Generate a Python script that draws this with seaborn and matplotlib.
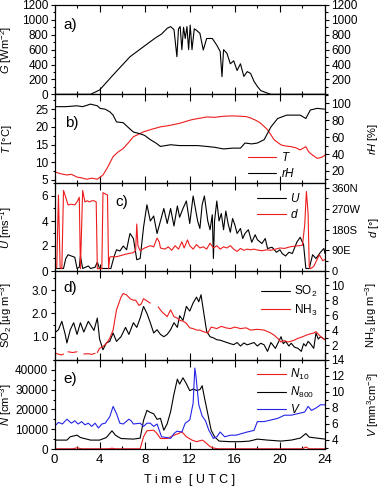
import numpy as np
import pandas as pd
import seaborn as sns
import matplotlib.pyplot as plt
from matplotlib.ticker import MultipleLocator, FixedLocator

sns.set_style('ticks', {'axes.edgecolor': 'black', 'xtick.color': 'black', 'ytick.color': 'black',
                        'text.color': 'black', 'axes.labelcolor': 'black'})
plt.rcParams['font.family'] = ['Liberation Sans', 'DejaVu Sans']
plt.rcParams['mathtext.fontset'] = 'custom'
plt.rcParams['mathtext.rm'] = 'Liberation Sans'
plt.rcParams['mathtext.it'] = 'Liberation Sans:italic'

# a) global radiation
tG = [0, 3.2, 4.0, 5.2, 6.7, 7.9, 8.9, 9.5, 10.0, 10.3, 10.6, 10.86, 11.0, 11.15, 11.3,
      11.45, 11.6, 11.75, 11.9, 12.04, 12.2, 12.4, 12.6, 12.9, 13.2, 13.5, 14.0, 14.4, 14.7, 14.86,
      15.0, 15.3, 15.6, 15.9, 16.2, 16.5, 16.8, 17.1, 17.4, 17.7, 18.0, 18.3, 18.9, 19.2, 24]
G = [0, 0, 58, 260, 505, 640, 752, 810, 887, 910, 870, 505, 880, 910, 600,
     900, 750, 910, 600, 930, 600, 880, 860, 820, 595, 750, 750, 660, 575, 237,
     600, 550, 410, 450, 320, 410, 240, 305, 280, 175, 105, 50, 15, 0, 0]

# b) temperature and relative humidity
tT = [0, 0.5, 1.1, 1.5, 2.0, 2.4, 2.85, 3.3, 3.8, 4.3, 4.7, 5.2, 5.6, 6.1, 6.5, 7.0, 7.9, 8.6,
      9.4, 10.2, 11.1, 12.04, 12.3, 13.0, 13.5, 14.2, 15.0, 15.8, 16.5, 17.0, 17.4, 17.9, 18.3,
      18.9, 19.5, 20.1, 20.5, 21.0, 21.4, 21.8, 22.3, 22.5, 22.7, 23.0, 23.3, 23.7, 24]
T = [7.3, 6.8, 6.4, 6.6, 5.8, 5.6, 5.2, 5.5, 5.2, 6.4, 8.5, 11.6, 12.8, 13.9, 15.3, 17.2, 18.6, 19.3,
     20.0, 20.4, 21.0, 21.9, 22.1, 22.5, 22.8, 22.7, 23.0, 23.1, 23.0, 22.9, 22.5, 21.8, 21.0,
     19.2, 16.3, 14.9, 14.6, 14.4, 14.1, 13.5, 14.4, 13.2, 12.5, 11.8, 11.1, 11.4, 12.0]
trH = [0, 1.0, 2.0, 2.5, 3.2, 3.8, 4.04, 4.5, 4.9, 5.2, 5.5, 6.1, 6.5, 7.0, 7.6, 8.0, 8.5, 9.0, 9.4,
       10.3, 11.1, 12.0, 12.7, 13.5, 14.2, 15.0, 15.8, 16.5, 16.9, 17.5, 18.0, 18.6, 19.2, 19.8,
       20.6, 21.2, 21.8, 22.3, 22.7, 23.3, 24]
rH = [96, 96, 97, 96, 99, 97, 94, 93, 90, 86, 78, 77, 72, 66, 64, 62, 57, 53, 49,
      51, 50, 50, 50, 49, 48, 46, 47, 47, 53, 52, 53, 57, 72, 82,
      86, 86, 86, 82, 92, 94, 93]

# c) wind speed and direction
tU = [0, 0.8, 1.0, 1.2, 1.8, 2.0, 2.2, 2.3, 2.5, 3.0,
      3.2, 3.6, 3.8, 4.0, 4.5, 5.0, 5.3, 5.5, 5.8, 6.1,
      6.4, 6.6, 6.7, 7.0, 7.3, 7.6, 7.9, 8.2, 8.5, 8.8,
      9.1, 9.4, 9.7, 10.0, 10.3, 10.6, 10.9, 11.1, 11.4, 11.7,
      12.0, 12.3, 12.5, 12.7, 12.9, 13.1, 13.3, 13.6, 13.8, 14.0,
      14.1, 14.2, 14.4, 14.6, 14.8, 15.0, 15.2, 15.4, 15.6, 15.8,
      16.0, 16.2, 16.5, 16.7, 16.9, 17.2, 17.5, 17.8, 18.0, 18.4,
      18.7, 18.9, 19.3, 19.7, 20.0, 20.2, 20.5, 20.8, 21.1, 21.5,
      21.8, 22.1, 22.3, 22.6, 22.9, 23.2, 23.6, 23.9, 24]
U = [0.2, 0.2, 1.0, 1.3, 1.1, 0.2, 0.3, 1.2, 0.2, 0.4,
     0.2, 0.3, 0.7, 0.2, 0.2, 0.2, 1.2, 1.7, 1.6, 2.0,
     1.7, 2.6, 3.0, 2.6, 0.9, 1.0, 3.5, 5.3, 4.0, 4.4,
     3.0, 4.0, 5.0, 3.8, 5.0, 3.6, 5.2, 4.3, 5.0, 5.6,
     3.8, 6.0, 5.0, 4.0, 3.4, 5.3, 6.0, 4.0, 3.3, 4.5,
     1.0, 4.0, 5.6, 4.0, 4.6, 3.3, 4.8, 3.8, 3.1, 4.2,
     3.7, 3.0, 3.4, 2.6, 3.0, 3.3, 2.3, 2.9, 2.5, 2.2,
     2.6, 1.8, 1.9, 1.5, 1.7, 1.4, 1.2, 1.5, 1.4, 2.3,
     2.7, 2.1, 0.2, 0.2, 1.3, 1.0, 1.5, 1.8, 1.4]
td = [0, 0.2, 0.35, 0.5, 0.65, 0.8, 1.0, 1.2, 1.5, 1.8,
      2.0, 2.2, 2.3, 2.5, 2.7, 2.9, 3.1, 3.3, 3.5, 3.7,
      3.8, 4.0, 4.2, 4.3, 4.5, 4.7, 4.8, 4.9, 5.0, 5.5,
      6.1, 6.5, 7.0, 7.2, 7.3, 7.4, 7.6, 8.0, 8.5, 8.8,
      9.1, 9.3, 9.4, 9.8, 10.1, 10.4, 10.7, 11.0, 11.3, 11.5,
      11.8, 12.0, 12.3, 12.6, 12.9, 13.2, 13.5, 13.8, 14.1, 14.4,
      14.7, 15.0, 15.3, 15.6, 15.9, 16.2, 16.5, 16.8, 17.1, 17.4,
      17.7, 18.0, 18.4, 18.8, 19.2, 19.6, 20.0, 20.4, 20.9, 21.3,
      21.7, 22.0, 22.2, 22.35, 22.5, 22.6, 22.7, 23.0, 23.3, 23.5,
      23.8, 24]
d = [10, 15, 330, 15, 10, 350, 320, 287, 290, 287,
     300, 320, 10, 350, 300, 305, 300, 305, 305, 300,
     10, 10, 10, 340, 335, 330, 10, 60, 62, 62,
     70, 75, 80, 90, 204, 110, 88, 100, 110, 105,
     143, 125, 100, 95, 105, 90, 110, 95, 127, 100,
     135, 110, 95, 115, 100, 105, 95, 121, 100, 110,
     95, 105, 100, 110, 95, 85, 98, 90, 95, 92,
     95, 91, 88, 92, 90, 95, 100, 98, 105, 108,
     110, 112, 200, 345, 250, 20, 10, 20, 50, 70,
     45, 50]

# d) SO2 and NH3 (nan = gap in record)
tS = [0, 0.35, 0.65, 0.95, 1.1, 1.4, 1.7, 2.0, 2.3, 2.6,
      3.0, 3.5, 3.8, 4.0, 4.3, 4.6, 4.9, 5.2, 5.5, 5.9,
      6.3, 6.6, 7.0, 7.3, 7.6, 7.9, 8.2, 8.5, 8.8, 9.1,
      9.4, 9.7, 10.0, 10.3, 10.6, 10.9, 11.1, 11.4, 11.7, 12.0,
      12.3, 12.6, 12.8, 13.0, 13.2, 13.5, 13.8, 14.1, 14.4, 14.7,
      15.0, 15.3, 15.6, 15.9, 16.2, 16.5, 16.8, 17.1, 17.4, 17.7,
      18.0, 18.3, 18.6, 18.9, 19.2, 19.6, 20.1, 20.3, 20.5, 20.8,
      21.0, 21.3, 21.6, 21.9, 22.1, 22.3, 22.5, 22.7, 23.0, 23.2,
      23.4, 23.6, 24]
SO2 = [1.16, 1.3, 1.66, 1.1, 0.73, 1.3, 1.6, 1.1, 1.6, 1.2,
       1.66, 1.27, 1.8, 0.9, 0.44, 0.73, 0.8, 1.16, 0.8, 1.0,
       1.4, 1.1, 1.6, 1.4, 1.8, 2.3, 2.0, 1.6, 1.16, 1.3,
       1.1, 1.0, 1.1, 1.3, 1.6, 1.4, 1.9, 1.7, 2.3, 2.1,
       2.45, 2.7, 2.5, 2.8, 2.16, 1.23, 1.0, 0.95, 0.87, 0.85,
       0.8, 0.75, 0.7, 0.66, 0.75, 0.6, 0.73, 0.65, 0.7, 0.75,
       0.6, 0.72, 0.65, 0.37, 0.75, 0.5, 1.0, 0.7, 0.8, 0.6,
       0.72, 0.55, 0.5, 0.37, 0.7, 0.6, 0.8, 0.7, 0.5, 1.16,
       0.9, 1.0, 0.87]
tN3 = [0, 0.3, 0.6, 0.8, 1.0, 1.2, 1.6, 2.0, 2.3, 2.6,
       3.0, 3.3, 3.6, 3.7, 3.8, 4.0, 4.3, 4.6, 4.9, 5.2,
       5.5, 5.9, 6.1, 6.4, 6.7, 7.0, 7.2, 7.5, 7.7, 7.9,
       8.2, 8.5, 8.8, 9.2, 9.5, 9.7, 10.0, 10.3, 10.6, 10.9,
       11.1, 11.4, 11.7, 12.0, 12.3, 12.6, 12.9, 13.2, 13.6, 13.9,
       14.4, 14.8, 15.2, 15.6, 16.0, 16.5, 17.0, 17.4, 18.0, 18.6,
       19.2, 19.5, 19.8, 20.1, 20.4, 20.7, 21.2, 21.6, 22.0, 22.3,
       22.7, 23.0, 23.2, 23.5, 23.8, 24]
NH3 = [0.97, 0.8, 0.67, 0.8, np.nan, 1.1, 1.0, 1.1, np.nan, 0.8,
       0.85, 0.75, 0.9, np.nan, 1.0, 1.56, 1.8, 2.2, 2.9, 4.0,
       6.7, 8.4, 8.9, 8.7, 8.2, 8.0, 8.0, 7.3, 7.5, 8.2,
       7.9, 7.6, np.nan, 7.1, 6.5, 6.2, 5.8, 6.7, 5.8, 5.6,
       5.3, 5.2, 4.9, 4.3, 4.2, 4.0, 4.0, 3.8, 3.6, 4.4,
       4.2, 4.5, 4.3, 4.2, 4.4, 4.2, 4.3, 4.0, 4.1, 4.0,
       3.6, 3.3, 2.9, 2.4, 2.6, 2.4, 2.6, 2.9, 3.1, 3.3,
       3.5, 3.6, 3.8, 3.3, 2.9, 2.7]

# e) particle number and volume
tN1 = [0, 1.6, 2.0, 2.4, 4.8, 5.1, 5.4, 7.6, 7.9, 8.2, 8.8, 9.1, 9.4, 10.0, 10.6,
       11.0, 11.3, 11.7, 12.2, 12.6, 13.1, 13.3, 13.8, 14.1, 14.5, 22.0, 22.3, 22.6, 24]
N10 = [100, 100, 600, 100, 100, 400, 100, 100, 6200, 9200, 9500, 7800, 5300, 5300, 7000,
       7800, 8700, 6200, 4500, 3700, 4500, 3800, 1200, 500, 100, 100, 1000, 100, 100]
tN8 = [0, 1.1, 1.4, 2.0, 2.3, 3.2, 4.0, 4.6, 5.1, 5.4, 5.9, 7.0, 7.6, 7.9, 8.2, 8.5, 8.8,
       9.1, 9.4, 9.7, 10.0, 10.3, 10.6, 10.9, 11.1, 11.4, 11.7, 12.0, 12.3, 12.6, 12.9, 13.1,
       13.3, 13.6, 13.9, 14.2, 14.6, 15.6, 16.5, 17.3, 18.0, 18.9, 20.1, 21.0, 21.8, 22.3,
       22.6, 23.3, 24]
N800 = [4500, 4500, 6200, 7000, 5800, 4500, 4500, 5800, 9200, 7000, 5300, 5000, 5500, 14500,
        19500, 18500, 17800, 15000, 15500, 9500, 12800, 18800, 27800, 35300, 32800, 36000,
        33000, 29500, 30300, 29600, 30000, 32000, 26100, 17800, 9500, 6200, 4000, 3700, 3700,
        4000, 5000, 4500, 4000, 4500, 5500, 7800, 6000, 5500, 5000]
tV = [0, 0.35, 0.7, 1.1, 1.5, 1.8, 2.1, 2.4, 2.7, 3.0, 3.3, 3.6, 3.9, 4.2, 4.5, 4.9, 5.2,
      5.5, 5.8, 6.1, 6.6, 6.8, 7.0, 7.6, 7.9, 8.2, 8.5, 8.8, 9.1, 9.5, 10.0, 10.3, 10.6,
      10.86, 11.3, 11.6, 12.0, 12.3, 12.45, 12.55, 12.8, 13.1, 13.4, 13.7, 14.1, 14.4, 14.7,
      15.1, 15.6, 16.1, 16.6, 17.1, 17.7, 18.0, 18.6, 19.2, 19.8, 20.4, 21.0, 21.6, 22.2,
      22.5, 22.8, 23.2, 23.6, 24]
V = [5.7, 6.2, 6.0, 6.6, 6.1, 6.4, 6.0, 6.3, 5.9, 6.1, 5.7, 6.1, 5.5, 6.0, 6.1, 6.9, 8.2,
     7.3, 6.1, 6.0, 6.6, 6.4, 6.0, 6.1, 5.7, 6.1, 6.1, 5.7, 6.0, 4.4, 4.3, 4.2, 4.8,
     5.1, 5.0, 6.1, 6.5, 8.6, 13.0, 12.0, 8.4, 7.0, 6.4, 5.2, 4.2, 4.4, 5.0,
     4.4, 4.6, 4.6, 4.8, 5.0, 5.2, 6.3, 6.3, 6.5, 6.7, 7.1, 7.1, 7.3, 7.5,
     8.2, 7.7, 8.0, 8.4, 8.4]

RED = '#ee1c1c'
BLUE = '#2424e8'
LW = 0.8
FS = 8

W, H = 385, 486
edges = [5, 94.3, 183.5, 271, 360, 449]
fig = plt.figure(figsize=(W / 100, H / 100), dpi=100)
axes = []
for i in range(5):
    ax = fig.add_axes([54.5 / W, 1 - edges[i + 1] / H, 270.5 / W, (edges[i + 1] - edges[i]) / H])
    axes.append(ax)
twins = [ax.twinx() for ax in axes]


def line(ax, x, y, color, label=None, units=None, data=None):
    if data is None:
        data = pd.DataFrame({'t': x, 'v': y})
    sns.lineplot(data=data, x='t', y='v', ax=ax, color=color, lw=LW, label=label,
                 legend=False, units=units, estimator=None)


def style(ax, tw, ylim, ylim2, major, minor, major2, minor2, last=False):
    ax.set_xlim(0, 24)
    ax.xaxis.set_major_locator(MultipleLocator(4))
    ax.xaxis.set_minor_locator(MultipleLocator(2))
    ax.tick_params(axis='x', which='both', direction='in', top=True, bottom=True,
                   labelbottom=last, labelsize=FS + 1.5)
    ax.tick_params(axis='x', which='major', length=5, width=0.8)
    ax.tick_params(axis='x', which='minor', length=2.5, width=0.8)
    ax.set_ylim(*ylim)
    ax.yaxis.set_major_locator(FixedLocator(major))
    ax.yaxis.set_minor_locator(MultipleLocator(minor))
    ax.tick_params(axis='y', which='both', direction='out', left=True, right=False,
                   labelsize=FS + 0.5, pad=1.5)
    ax.tick_params(axis='y', which='major', length=3, width=0.8)
    ax.tick_params(axis='y', which='minor', length=1.8, width=0.8)
    tw.set_ylim(*ylim2)
    tw.yaxis.set_major_locator(FixedLocator(major2))
    tw.yaxis.set_minor_locator(MultipleLocator(minor2))
    tw.tick_params(axis='y', which='both', direction='out', right=True, labelsize=FS + 0.5,
                   pad=1.5)
    tw.tick_params(axis='y', which='major', length=3, width=0.8)
    tw.tick_params(axis='y', which='minor', length=1.8, width=0.8)
    ax.set_xlabel('')
    ax.set_ylabel('')
    tw.set_ylabel('')
    for a in (ax, tw):
        for s in a.spines.values():
            s.set_linewidth(0.8)


def leg(ax, tw, x, y):
    h1, l1 = ax.get_legend_handles_labels()
    h2, l2 = tw.get_legend_handles_labels()
    entries = dict(zip(l1 + l2, h1 + h2))
    tw.legend(list(entries.values()), list(entries.keys()), loc='upper left',
              bbox_to_anchor=(x, y), frameon=False,
              borderpad=0, borderaxespad=0, handlelength=2.4, handletextpad=0.4,
              labelspacing=0.25, fontsize=FS + 0.5)


# a)
ax, tw = axes[0], twins[0]
line(ax, tG, G, 'black')
style(ax, tw, (0, 1200), (0, 1200), range(0, 1201, 200), 100, range(200, 1201, 200), 100)

# b)
ax, tw = axes[1], twins[1]
line(ax, tT, T, RED, '$T$')
line(tw, trH, rH, 'black', '$rH$')
style(ax, tw, (4.0, 29.2), (5.2, 110.6), [5, 10, 15, 20, 25], 2.5, [20, 40, 60, 80, 100], 10)
leg(ax, tw, 0.715, 0.36)

# c)
ax, tw = axes[2], twins[2]
line(ax, tU, U, 'black', '$U$')
line(tw, td, d, RED, '$d$')
style(ax, tw, (0, 7), (0, 380), [0, 2, 4, 6], 1, [0, 90, 180, 270, 360], 45)
tw.set_yticklabels(['0', '90E', '180S', '270W', '360N'])
tw.tick_params(axis='y', labelsize=FS)
leg(ax, tw, 0.75, 0.9)

# d)
ax, tw = axes[3], twins[3]
line(ax, tS, SO2, 'black', 'SO$_2$')
nh3 = pd.DataFrame({'t': tN3, 'v': NH3})
nh3['seg'] = nh3['v'].isna().cumsum()
nh3 = nh3.dropna()
line(tw, None, None, RED, 'NH$_3$', units='seg', data=nh3)
style(ax, tw, (0, 3.82), (0, 11.9), [1.0, 2.0, 3.0], 0.5, [2, 4, 6, 8, 10], 1)
ax.yaxis.set_major_formatter('{x:.1f}')
leg(ax, tw, 0.765, 0.85)

# e)
ax, tw = axes[4], twins[4]
line(ax, tN1, N10, RED, '$N_{10}$')
line(ax, tN8, N800, 'black', '$N_{800}$')
line(tw, tV, V, BLUE, '$V$')
style(ax, tw, (0, 45000), (2.875, 14), range(0, 40001, 10000), 5000, [4, 6, 8, 10, 12, 14], 1,
      last=True)
leg(ax, tw, 0.75, 0.92)

# panel letters
for ax, lab, x, y in zip(axes, ['a)', 'b)', 'c)', 'd)', 'e)'],
                         [0.031, 0.039, 0.224, 0.031, 0.031], [0.78, 0.68, 0.79, 0.81, 0.79]):
    ax.text(x, y, lab, transform=ax.transAxes, fontsize=FS + 3, ha='left', va='center')

# axis labels
left_labels = [r'$G$ [Wm$^{-2}$]', r'$T$ [°C]', r'$U$ [ms$^{-1}$]', r'SO$_2$ [µg m$^{-3}$]',
               r'$N$ [cm$^{-3}$]']
for ax, lab in zip(axes, left_labels):
    ax.set_ylabel(lab, fontsize=FS)
    ax.yaxis.set_label_coords(-0.148, 0.5)
right_labels = [None, r'$rH$ [%]', r'$d$ [°]', r'NH$_3$ [µg m$^{-3}$]', r'$V$ [mm$^3$cm$^{-3}$]']
right_x = [None, 1.15, 1.155, 1.14, 1.15]
for tw, lab, x in zip(twins, right_labels, right_x):
    if lab:
        tw.set_ylabel(lab, fontsize=FS)
        tw.yaxis.set_label_coords(x, 0.5)

fig.text((54.5 + 325) / 2 / W, 1 - 480 / H, 'T i m e  [ U T C ]', ha='center', va='center',
         fontsize=FS + 1)

fig.savefig('out.png', dpi=100)
